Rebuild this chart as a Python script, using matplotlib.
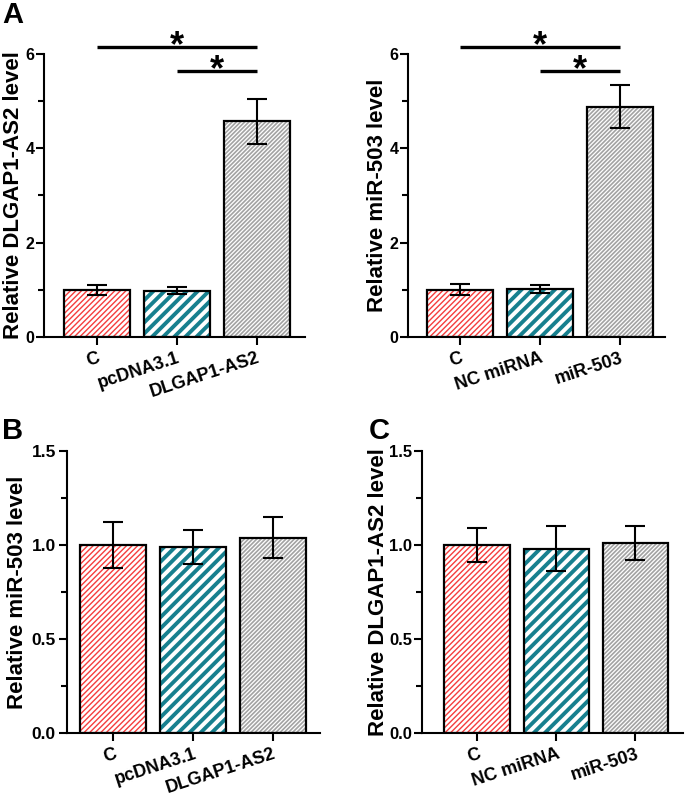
import numpy as np
import matplotlib
matplotlib.use("Agg")
import matplotlib.pyplot as plt

plt.rcParams['font.family'] = ['Liberation Sans', 'DejaVu Sans']
plt.rcParams['font.weight'] = 'bold'

# data
labels_a1 = ['C', 'pcDNA3.1', 'DLGAP1-AS2']
means_a1 = [1.0, 0.98, 4.57]
errs_a1 = [0.11, 0.07, 0.48]

labels_a2 = ['C', 'NC miRNA', 'miR-503']
means_a2 = [1.0, 1.02, 4.88]
errs_a2 = [0.12, 0.08, 0.46]

labels_b = ['C', 'pcDNA3.1', 'DLGAP1-AS2']
means_b = [1.0, 0.99, 1.04]
errs_b = [0.12, 0.09, 0.11]

labels_c = ['C', 'NC miRNA', 'miR-503']
means_c = [1.0, 0.98, 1.01]
errs_c = [0.09, 0.12, 0.09]

sig_levels = [6.15, 5.64]

# hatch style per bar: (hatch colour, pattern, hatch linewidth)
styles = [('#f53d3d', '//////', 1.0), ('#17808f', '///', 2.8), ('#a3a3a3', '////////', 1.2)]


def draw_panel(ax, labels, means, errs, ymax, major, minor, ylabel, xlim,
               ytick_size, label_x, ypad=2):
    x = np.arange(len(labels))
    for xi, m, (col, hat, hlw) in zip(x, means, styles):
        with plt.rc_context({'hatch.linewidth': hlw, 'hatch.color': col}):
            b = ax.bar(xi, m, 0.83, color='white', edgecolor=col, hatch=hat, linewidth=0)
            for p in b:
                if hasattr(p, 'set_hatch_linewidth'):
                    p.set_hatch_linewidth(hlw)
        ax.bar(xi, m, 0.83, fill=False, edgecolor='black', linewidth=1.6)
    ax.errorbar(x, means, yerr=errs, fmt='none', ecolor='black', elinewidth=1.5,
                capsize=7, capthick=1.5)
    ax.set_xlim(*xlim)
    ax.set_ylim(0, ymax)
    ax.set_yticks(major)
    ax.set_yticks(minor, minor=True)
    ax.set_xticks(x)
    ax.set_xticklabels(labels, rotation=18, ha='right', rotation_mode='anchor',
                       fontsize=13, fontweight='bold')
    for t in ax.get_yticklabels():
        t.set_fontsize(ytick_size)
        t.set_fontweight('bold')
    ax.set_ylabel(ylabel, fontsize=16, fontweight='bold')
    ax.yaxis.set_label_coords(label_x, 0.5)
    ax.spines['top'].set_visible(False)
    ax.spines['right'].set_visible(False)
    ax.spines['left'].set_linewidth(1.5)
    ax.spines['bottom'].set_linewidth(1.5)
    ax.tick_params(axis='y', which='major', length=6, width=1.5, pad=ypad)
    ax.tick_params(axis='y', which='minor', length=4, width=1.5)
    ax.tick_params(axis='x', length=6, width=1.5, pad=3)


def draw_sig(ax, x0, x1, y):
    ax.plot([x0, x1], [y, y], color='black', lw=2.4, clip_on=False, solid_capstyle='butt')
    ax.text((x0 + x1) / 2, y - 0.2, '*', ha='center', va='baseline', fontsize=26,
            fontweight='bold', clip_on=False)


fig = plt.figure(figsize=(6.85, 8.05), dpi=100)

ax1 = fig.add_axes([0.0642, 0.5814, 0.381, 0.3516])
draw_panel(ax1, labels_a1, means_a1, errs_a1, 6, [0, 2, 4, 6], [1, 3, 5],
           'Relative DLGAP1-AS2 level', (-0.66, 2.6), 11.5, -0.076, ypad=1)
draw_sig(ax1, 0, 2, sig_levels[0])
draw_sig(ax1, 1, 2, sig_levels[1])

ax2 = fig.add_axes([0.5956, 0.5814, 0.3752, 0.3516])
draw_panel(ax2, labels_a2, means_a2, errs_a2, 6, [0, 2, 4, 6], [1, 3, 5],
           'Relative miR-503 level', (-0.65, 2.56), 11.5, -0.078, ypad=1)
draw_sig(ax2, 0, 2, sig_levels[0])
draw_sig(ax2, 1, 2, sig_levels[1])

ax3 = fig.add_axes([0.0978, 0.0894, 0.3693, 0.3503])
draw_panel(ax3, labels_b, means_b, errs_b, 1.5, [0, 0.5, 1.0, 1.5], [0.25, 0.75, 1.25],
           'Relative miR-503 level', (-0.58, 2.59), 12.5, -0.156)

ax4 = fig.add_axes([0.616, 0.0894, 0.381, 0.3503])
draw_panel(ax4, labels_c, means_c, errs_c, 1.5, [0, 0.5, 1.0, 1.5], [0.25, 0.75, 1.25],
           'Relative DLGAP1-AS2 level', (-0.70, 2.6), 12, -0.128, ypad=1)

ax3.set_yticklabels(['0.0', '0.5', '1.0', '1.5'], fontsize=12.5, fontweight='bold')
ax4.set_yticklabels(['0.0', '0.5', '1.0', '1.5'], fontsize=12, fontweight='bold')

fig.text(0.003, 0.999, 'A', fontsize=21, fontweight='bold', va='top', ha='left')
fig.text(0.003, 0.482, 'B', fontsize=21, fontweight='bold', va='top', ha='left')
fig.text(0.538, 0.482, 'C', fontsize=21, fontweight='bold', va='top', ha='left')

fig.savefig('out.png', dpi=100)
